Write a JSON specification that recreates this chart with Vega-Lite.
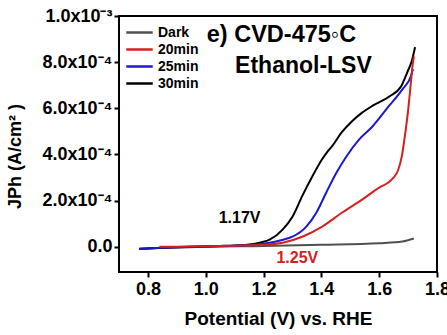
{
  "$schema": "https://vega.github.io/schema/vega-lite/v6.json",
  "width": 318,
  "height": 256,
  "autosize": "none",
  "padding": {"left": 119, "top": 16, "right": 10, "bottom": 63},
  "background": "white",
  "config": {
    "font": "Liberation Sans",
    "view": {"stroke": "black", "strokeWidth": 2},
    "axis": {"grid": false, "domain": false, "tickColor": "black", "tickWidth": 2, "tickSize": 5, "labelFont": "Liberation Sans", "labelFontWeight": "bold", "labelFontSize": 18, "labelColor": "black", "titleFont": "Liberation Sans", "titleFontWeight": "bold", "titleFontSize": 18, "titleColor": "black"}
  },
  "layer": [
    {
      "data": {"values": [
        {"series": "Dark", "x": 0.77, "y": -0.000008},
        {"series": "Dark", "x": 0.9, "y": -0.000004},
        {"series": "Dark", "x": 1.0, "y": 0.0},
        {"series": "Dark", "x": 1.2, "y": 0.000003},
        {"series": "Dark", "x": 1.4, "y": 0.000008},
        {"series": "Dark", "x": 1.6, "y": 0.000015},
        {"series": "Dark", "x": 1.68, "y": 0.000022},
        {"series": "Dark", "x": 1.72, "y": 0.000035},
        {"series": "30min", "x": 0.77, "y": -0.00001},
        {"series": "30min", "x": 0.85, "y": -0.000005},
        {"series": "30min", "x": 0.95, "y": 0.0},
        {"series": "30min", "x": 1.05, "y": 0.000003},
        {"series": "30min", "x": 1.1, "y": 0.000005},
        {"series": "30min", "x": 1.152, "y": 0.000009},
        {"series": "30min", "x": 1.19, "y": 0.000018},
        {"series": "30min", "x": 1.221, "y": 0.00003},
        {"series": "30min", "x": 1.266, "y": 0.000074},
        {"series": "30min", "x": 1.30, "y": 0.00013},
        {"series": "30min", "x": 1.334, "y": 0.00022},
        {"series": "30min", "x": 1.369, "y": 0.000305},
        {"series": "30min", "x": 1.403, "y": 0.00038},
        {"series": "30min", "x": 1.42, "y": 0.00041},
        {"series": "30min", "x": 1.438, "y": 0.000437},
        {"series": "30min", "x": 1.47, "y": 0.000495},
        {"series": "30min", "x": 1.507, "y": 0.000545},
        {"series": "30min", "x": 1.54, "y": 0.00058},
        {"series": "30min", "x": 1.576, "y": 0.00061},
        {"series": "30min", "x": 1.634, "y": 0.00065},
        {"series": "30min", "x": 1.676, "y": 0.000695},
        {"series": "30min", "x": 1.697, "y": 0.000755},
        {"series": "30min", "x": 1.714, "y": 0.00081},
        {"series": "30min", "x": 1.724, "y": 0.000865},
        {"series": "25min", "x": 0.77, "y": -0.00001},
        {"series": "25min", "x": 0.9, "y": -0.000003},
        {"series": "25min", "x": 1.0, "y": 0.0},
        {"series": "25min", "x": 1.1, "y": 0.000004},
        {"series": "25min", "x": 1.18, "y": 0.00001},
        {"series": "25min", "x": 1.221, "y": 0.000017},
        {"series": "25min", "x": 1.26, "y": 0.000028},
        {"series": "25min", "x": 1.30, "y": 0.000043},
        {"series": "25min", "x": 1.348, "y": 0.000087},
        {"series": "25min", "x": 1.383, "y": 0.000148},
        {"series": "25min", "x": 1.417, "y": 0.000235},
        {"series": "25min", "x": 1.452, "y": 0.00032},
        {"series": "25min", "x": 1.486, "y": 0.00039},
        {"series": "25min", "x": 1.531, "y": 0.000465},
        {"series": "25min", "x": 1.576, "y": 0.00052},
        {"series": "25min", "x": 1.634, "y": 0.00061},
        {"series": "25min", "x": 1.679, "y": 0.00068},
        {"series": "25min", "x": 1.71, "y": 0.00074},
        {"series": "25min", "x": 1.717, "y": 0.00077},
        {"series": "20min", "x": 0.84, "y": 0.0},
        {"series": "20min", "x": 0.9, "y": 0.0},
        {"series": "20min", "x": 1.0, "y": 0.000002},
        {"series": "20min", "x": 1.1, "y": 0.000004},
        {"series": "20min", "x": 1.2, "y": 0.000008},
        {"series": "20min", "x": 1.266, "y": 0.000017},
        {"series": "20min", "x": 1.334, "y": 0.000043},
        {"series": "20min", "x": 1.403, "y": 0.000087},
        {"series": "20min", "x": 1.472, "y": 0.000148},
        {"series": "20min", "x": 1.541, "y": 0.000204},
        {"series": "20min", "x": 1.60, "y": 0.000256},
        {"series": "20min", "x": 1.634, "y": 0.00028},
        {"series": "20min", "x": 1.65, "y": 0.0003},
        {"series": "20min", "x": 1.665, "y": 0.00033},
        {"series": "20min", "x": 1.678, "y": 0.00039},
        {"series": "20min", "x": 1.69, "y": 0.00049},
        {"series": "20min", "x": 1.70, "y": 0.00059},
        {"series": "20min", "x": 1.708, "y": 0.00069},
        {"series": "20min", "x": 1.715, "y": 0.00078},
        {"series": "20min", "x": 1.72, "y": 0.000825}
      ]},
      "mark": {"type": "line", "strokeWidth": 2, "interpolate": "monotone"},
      "encoding": {
        "x": {"field": "x", "type": "quantitative", "scale": {"domain": [0.7, 1.8], "nice": false, "zero": false},
          "axis": {"values": [0.8, 1.0, 1.2, 1.4, 1.6, 1.8], "format": ".1f", "title": "Potential (V) vs. RHE", "titlePadding": 11, "titleFontSize": 19, "labelPadding": 3, "labelFlush": false}},
        "y": {"field": "y", "type": "quantitative", "scale": {"domain": [-0.00011, 0.001], "nice": false, "zero": false},
          "axis": {"values": [0, 0.0002, 0.0004, 0.0006, 0.0008, 0.001],
            "labelExpr": "datum.value == 0 ? '0.0' : datum.value > 0.0009 ? '1.0x10⁻³' : format(datum.value * 10000, '.1f') + 'x10⁻⁴'",
            "title": "JPh (A/cm² )", "titleX": -104, "titleY": 140, "titleBaseline": "middle", "titleAlign": "center", "labelPadding": 2, "labelFlush": false}},
        "color": {"field": "series", "type": "nominal",
          "scale": {"domain": ["Dark", "20min", "25min", "30min"], "range": ["#505050", "#d42020", "#1a1acc", "#000000"]},
          "legend": {"title": null, "orient": "none", "legendX": 6, "legendY": 8, "symbolType": "stroke", "symbolSize": 700, "symbolStrokeWidth": 2.5, "labelFontSize": 14, "labelFontWeight": "bold", "labelFont": "Liberation Sans", "labelColor": "black", "rowPadding": 0, "clipHeight": 17, "padding": 0, "labelOffset": 4}},
        "order": {"field": "x", "type": "quantitative"}
      }
    },
    {
      "data": {"values": [{"label": "e) CVD-475◦C", "x": 1.262, "y": 0.000918}]},
      "mark": {"type": "text", "fontSize": 23.5, "fontWeight": "bold", "color": "black", "align": "center", "baseline": "middle"},
      "encoding": {"x": {"field": "x", "type": "quantitative"}, "y": {"field": "y", "type": "quantitative"}, "text": {"field": "label"}}
    },
    {
      "data": {"values": [{"label": "Ethanol-LSV", "x": 1.338, "y": 0.000782}]},
      "mark": {"type": "text", "fontSize": 23, "fontWeight": "bold", "color": "black", "align": "center", "baseline": "middle"},
      "encoding": {"x": {"field": "x", "type": "quantitative"}, "y": {"field": "y", "type": "quantitative"}, "text": {"field": "label"}}
    },
    {
      "data": {"values": [{"label": "1.17V", "x": 1.117, "y": 0.000122}]},
      "mark": {"type": "text", "fontSize": 16, "fontWeight": "bold", "color": "black", "align": "center", "baseline": "middle"},
      "encoding": {"x": {"field": "x", "type": "quantitative"}, "y": {"field": "y", "type": "quantitative"}, "text": {"field": "label"}}
    },
    {
      "data": {"values": [{"label": "1.25V", "x": 1.317, "y": -0.000048}]},
      "mark": {"type": "text", "fontSize": 16, "fontWeight": "bold", "color": "#d42020", "align": "center", "baseline": "middle"},
      "encoding": {"x": {"field": "x", "type": "quantitative"}, "y": {"field": "y", "type": "quantitative"}, "text": {"field": "label"}}
    }
  ]
}
